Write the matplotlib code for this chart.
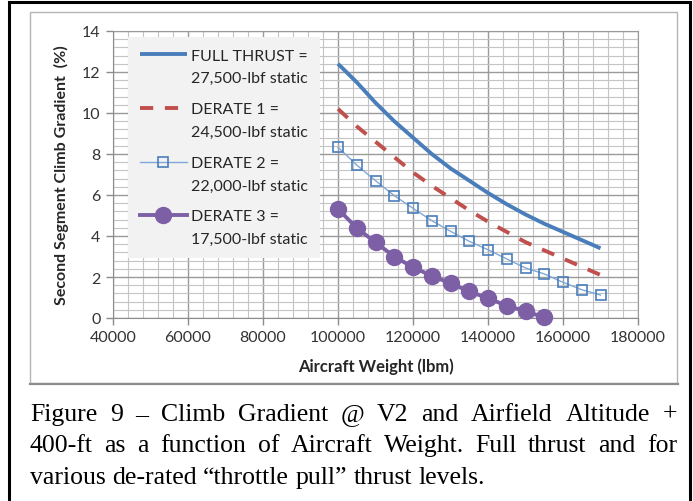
import matplotlib
matplotlib.use('Agg')
import numpy as np
import matplotlib.pyplot as plt
from matplotlib.patches import Rectangle
from matplotlib.lines import Line2D
from matplotlib.legend_handler import HandlerLine2D
from matplotlib.ticker import MultipleLocator

# aircraft weight (lbm)
weight = [100000, 105000, 110000, 115000, 120000, 125000, 130000, 135000,
          140000, 145000, 150000, 155000, 160000, 165000, 170000]
weight_d3 = weight[:12]

# second segment climb gradient (%)
full_thrust = [12.4, 11.5, 10.5, 9.6, 8.8, 8.0, 7.3, 6.7, 6.1, 5.55, 5.05, 4.6, 4.2, 3.8, 3.4]
derate1 = [10.2, 9.35, 8.6, 7.85, 7.1, 6.45, 5.85, 5.25, 4.7, 4.2, 3.7, 3.3, 2.9, 2.5, 2.1]
derate2 = [8.33, 7.46, 6.70, 5.97, 5.35, 4.75, 4.23, 3.74, 3.33, 2.88, 2.44, 2.15, 1.74, 1.38, 1.12]
derate3 = [5.32, 4.39, 3.69, 3.00, 2.47, 2.06, 1.69, 1.30, 0.96, 0.60, 0.33, 0.03]

labels = ['FULL THRUST =\n27,500-lbf static',
          'DERATE 1 =\n24,500-lbf static',
          'DERATE 2 =\n22,000-lbf static',
          'DERATE 3 =\n17,500-lbf static']

caption = ['Figure 9 \u2013 Climb Gradient @ V2 and Airfield Altitude +',
           '400-ft as a function of Aircraft Weight. Full thrust and for',
           'various de-rated \u201cthrottle pull\u201d thrust levels.']

W, H = 693, 502
plt.rcParams['font.family'] = ['Lato', 'DejaVu Sans']

fig = plt.figure(figsize=(W / 100, H / 100), dpi=100)
fig.patch.set_facecolor('white')

def box(x0, y0, x1, y1):
    return [x0 / W, 1 - y1 / H, (x1 - x0) / W, (y1 - y0) / H]

# legend handles sit on the first line of each two-line label
class FirstLineHandler(HandlerLine2D):
    def create_artists(self, legend, orig_handle, xdescent, ydescent,
                       width, height, fontsize, trans):
        arts = super().create_artists(legend, orig_handle, xdescent, ydescent,
                                      width, height, fontsize, trans)
        for a in arts:
            a.set_ydata(np.asarray(a.get_ydata()) + 0.78 * fontsize)
        return arts

# outer black frame and grey chart panel
fig.patches.append(Rectangle((9 / W, -0.05), 681 / W, 1.05 - 2.5 / H,
                             transform=fig.transFigure, fill=False,
                             edgecolor='black', lw=2.2, zorder=-2))
fig.patches.append(Rectangle((30 / W, 1 - 384 / H), 647 / W, 371 / H,
                             transform=fig.transFigure, facecolor='white',
                             edgecolor='#B4B4B4', lw=1.0, zorder=-2))
fig.add_artist(Line2D([30 / W, 678 / W], [1 - 385 / H] * 2, color='#8C8C8C',
                      lw=1.6, zorder=-1))

ax = fig.add_axes(box(113, 32, 638, 319))
ax.set_zorder(1)

ax.plot(weight, full_thrust, color='#4A7EBB', lw=2.8, solid_capstyle='butt',
        label=labels[0], zorder=4)
ax.plot(weight, derate1, color='#C0504D', lw=2.8, dashes=(3.4, 3.0),
        label=labels[1], zorder=4)
ax.plot(weight, derate2, color='#7FA7D8', lw=1.0, marker='s', ms=7.5,
        mfc='none', mec='#4A7EBB', mew=1.2, label=labels[2], zorder=4,
        clip_on=False)
ax.plot(weight_d3, derate3, color='#7D5FA5', lw=2.8, marker='o', ms=11.5,
        label=labels[3], zorder=5, clip_on=False)

ax.set_xlim(40000, 180000)
ax.set_ylim(0, 14)
ax.xaxis.set_major_locator(MultipleLocator(20000))
ax.xaxis.set_minor_locator(MultipleLocator(4000))
ax.yaxis.set_major_locator(MultipleLocator(2))
ax.yaxis.set_minor_locator(MultipleLocator(0.4))
ax.grid(which='major', color='#9A9A9A', lw=1.0)
ax.grid(which='minor', color='#C4C4C4', lw=0.8)
ax.set_axisbelow(True)
ax.tick_params(which='major', direction='out', length=5, width=1,
               color='#8C8C8C', labelsize=11.5, labelcolor='#333333', pad=4)
ax.tick_params(which='minor', length=0)
for s in ['left', 'bottom']:
    ax.spines[s].set_color('#8C8C8C')
for s in ['top', 'right']:
    ax.spines[s].set_color('#9A9A9A')

ax.set_xlabel('Aircraft Weight (lbm)', fontsize=12, fontweight='bold',
              color='#262626', labelpad=9)
ax.set_ylabel('Second Segment Climb Gradient  (%)', fontsize=11.5,
              fontweight='bold', color='#262626', labelpad=9)

leg = ax.legend(loc='upper left', bbox_to_anchor=(0.0286, 0.979), fontsize=11.5,
                frameon=True, facecolor='#F2F2F2', edgecolor='none',
                framealpha=1, fancybox=False, handlelength=3.0,
                handletextpad=0.25, labelspacing=1.05, borderpad=0.72,
                borderaxespad=0,
                handler_map={Line2D: FirstLineHandler()})
for t in leg.get_texts():
    t.set_linespacing(1.8)
    t.set_color('#262626')
leg.set_zorder(3)

# justified caption text
renderer = fig.canvas.get_renderer()
cap_size = 18.5
cap_font = dict(family='Liberation Serif', size=cap_size, color='black', va='baseline')
baselines = [421, 452, 484]
for i, line in enumerate(caption):
    words = line.split(' ')
    texts = [fig.text(0, 1 - baselines[i] / H, w, **cap_font) for w in words]
    widths = [t.get_window_extent(renderer).width for t in texts]
    if i < len(caption) - 1:
        gap = (677 - 30 - sum(widths)) / (len(words) - 1)
    else:
        gap = 0.25 * cap_size * 100 / 72
    xpos = 30
    for t, w in zip(texts, widths):
        t.set_x(xpos / W)
        xpos += w + gap

fig.savefig('out.png', dpi=100)
